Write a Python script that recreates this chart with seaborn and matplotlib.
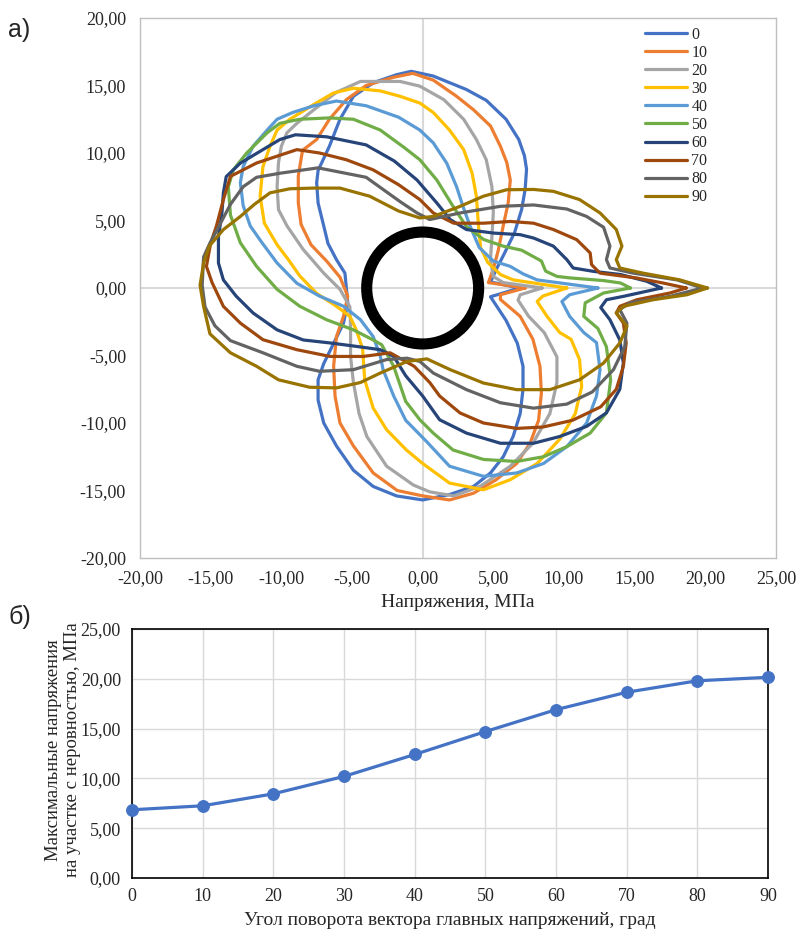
import matplotlib
matplotlib.use("Agg")
import pandas as pd
import seaborn as sns
from matplotlib import pyplot as plt
from matplotlib.ticker import FuncFormatter, MultipleLocator

# --- contour of stresses around the hole for each rotation angle (MPa) ---
x_0 = [6.85, 4.8, 5.2, 5.8, 6.5, 7.0, 7.25, 7.35, 7.2, 6.8, 5.9, 4.5, 3.1, 0.75, -0.8, -1.85, -3.5, -4.9, -5.85, -6.6,
       -7.0, -7.4, -7.5, -7.4, -7.0, -6.7, -6.1, -5.5, -5.4, -5.3, -5.6, -6.3, -7.0, -7.4, -7.4, -7.0, -6.1, -4.9, -3.5,
       -1.85, 0.0, 1.9, 3.6, 4.8, 5.7, 6.4, 6.9, 7.1, 7.1, 6.7, 5.9, 4.8, 6.85]
y_0 = [0.0, 0.45, 1.35, 2.6, 4.1, 5.8, 7.3, 8.8, 9.8, 11.0, 12.5, 13.9, 14.7, 15.7, 16.05, 15.8, 15.2, 14.2, 12.5, 10.5,
       9.6, 8.7, 7.8, 6.3, 4.6, 3.3, 2.1, 1.1, 0.0, -1.1, -2.6, -4.1, -5.6, -6.8, -8.3, -10.0, -11.7, -13.5, -14.7,
       -15.4, -15.7, -15.3, -14.7, -13.7, -12.5, -11.0, -9.3, -7.5, -5.8, -4.1, -2.4, -0.65, 0.0]

x_10 = [7.25, 4.65, 5.0, 5.35, 5.7, 6.05, 6.2, 5.95, 5.5, 4.8, 3.6, 2.4, 0.75, -0.7, -2.1, -4.0, -5.4, -6.6, -7.5, -8.5,
        -8.8, -8.8, -8.6, -7.9, -6.8, -5.85, -5.3, -5.6, -6.1, -6.3, -6.2, -5.85, -4.9, -3.5, -1.8, 0.0, 1.9, 3.6, 5.2,
        6.65, 7.6, 8.2, 8.4, 8.3, 7.8, 6.9, 5.5, 5.5, 7.25]
y_10 = [0.0, 0.4, 1.4, 2.8, 4.6, 6.3, 8.0, 9.3, 10.5, 12.0, 13.2, 14.2, 15.4, 15.9, 15.6, 15.0, 13.95, 12.5, 11.0, 10.2,
        8.3, 6.3, 4.7, 3.2, 2.0, 0.8, -0.6, -2.1, -3.6, -5.8, -8.0, -10.0, -11.7, -13.7, -15.0, -15.4, -15.7, -15.2,
        -14.2, -13.0, -11.5, -9.8, -7.8, -5.8, -3.8, -2.1, -0.85, -0.5, 0.0]

x_20 = [8.45, 5.7, 5.0, 4.8, 4.9, 5.0, 4.9, 4.5, 3.8, 2.9, 1.5, -0.2, -1.6, -4.4, -6.1, -7.7, -8.9, -9.6, -10.0, -10.2,
        -10.3, -10.2, -9.6, -8.45, -7.0, -5.85, -5.15, -5.1, -5.1, -4.9, -4.5, -3.95, -2.55, -0.65, 0.5, 2.2, 4.05, 6.2,
        7.8, 9.0, 9.5, 9.5, 8.6, 7.5, 6.75, 6.9, 8.45]
y_20 = [0.0, 0.4, 0.85, 2.1, 3.8, 5.6, 7.5, 9.5, 11.0, 12.5, 13.95, 14.95, 15.3, 15.3, 14.5, 13.2, 12.2, 11.5, 10.5, 9.3,
        7.5, 5.8, 4.6, 2.85, 1.1, -0.1, -1.4, -3.1, -5.1, -7.0, -9.3, -11.0, -13.2, -14.6, -15.1, -15.4, -14.7, -13.2,
        -11.5, -9.3, -7.0, -5.1, -3.3, -2.1, -0.9, -0.5, 0.0]

x_30 = [10.2, 6.4, 5.5, 4.6, 4.1, 3.95, 3.8, 3.5, 2.9, 1.9, 0.75, -0.2, -1.6, -3.0, -4.9, -6.3, -7.7, -9.4, -10.3, -10.8,
        -11.3, -11.5, -11.2, -10.3, -9.5, -8.7, -7.5, -6.1, -5.15, -4.7, -4.25, -4.1, -3.5, -2.55, -1.15, 0.0, 1.9, 4.3,
        6.2, 8.1, 9.7, 10.8, 11.25, 11.1, 10.5, 9.7, 8.8, 8.1, 8.5, 10.2]
y_30 = [0.0, 0.6, 1.0, 1.9, 3.0, 4.6, 6.8, 8.5, 10.25, 11.7, 13.0, 13.7, 14.2, 14.6, 14.8, 14.45, 13.6, 12.5, 11.7, 10.5,
        9.0, 6.8, 4.8, 3.2, 2.1, 0.9, -0.4, -1.35, -2.1, -3.1, -4.5, -6.8, -8.9, -10.5, -12.0, -13.0, -14.45, -14.95,
        -14.2, -13.0, -11.2, -9.3, -7.3, -5.3, -3.8, -3.3, -2.1, -1.0, -0.6, 0.0]

x_40 = [12.4, 8.1, 7.1, 6.2, 5.0, 4.0, 3.35, 2.85, 2.4, 1.7, 0.75, -0.2, -1.7, -4.0, -6.1, -7.7, -9.2, -10.3, -11.0,
        -12.0, -12.7, -12.9, -12.7, -12.2, -11.4, -10.3, -8.9, -7.3, -5.6, -4.4, -3.5, -3.0, -2.8, -2.05, -1.2, 0.3, 1.9,
        4.3, 6.65, 8.55, 10.2, 11.6, 12.3, 12.55, 12.3, 11.4, 10.4, 9.85, 10.4, 12.4]
y_40 = [0.0, 0.6, 1.05, 1.6, 2.0, 3.0, 4.6, 6.05, 7.5, 9.25, 10.75, 11.7, 12.65, 13.5, 13.85, 13.5, 13.0, 12.5, 11.7,
        10.5, 9.0, 7.8, 6.1, 4.6, 3.4, 1.85, 0.35, -0.6, -1.35, -2.35, -3.6, -5.05, -6.05, -8.0, -9.8, -11.4, -13.2,
        -13.95, -13.7, -13.0, -11.75, -10.0, -8.0, -6.05, -4.05, -3.3, -2.1, -1.0, -0.5, 0.0]

x_50 = [14.7, 14.0, 12.8, 10.4, 9.5, 8.7, 8.4, 7.0, 5.7, 4.3, 3.1, 2.15, 1.0, -0.2, -1.3, -3.0, -4.9, -6.6, -8.7, -10.1,
        -11.0, -12.45, -13.4, -13.75, -13.6, -12.9, -11.75, -10.3, -8.7, -6.8, -4.9, -3.5, -2.9, -2.05, -1.2, -0.2, 0.75,
        2.15, 4.3, 6.65, 8.55, 10.2, 11.85, 13.0, 13.3, 13.0, 12.4, 11.4, 11.5, 12.8, 14.7]
y_50 = [0.0, 0.37, 0.55, 0.75, 0.86, 1.25, 2.0, 2.8, 3.1, 3.6, 4.55, 6.05, 8.0, 9.5, 10.4, 11.7, 12.5, 12.6, 12.5, 12.2,
        11.5, 10.0, 8.75, 7.5, 5.4, 3.35, 1.6, -0.1, -1.35, -2.35, -3.1, -3.85, -4.2, -5.8, -8.4, -9.76, -10.75, -12.0,
        -12.7, -12.85, -12.5, -11.75, -10.75, -9.25, -6.8, -4.35, -3.0, -2.1, -1.1, -0.37, 0.0]

x_60 = [16.9, 15.85, 14.0, 12.1, 10.65, 10.2, 9.25, 7.85, 6.9, 5.0, 3.1, 1.95, 1.0, -0.4, -2.0, -4.0, -6.8, -9.0, -10.1,
        -11.3, -12.9, -13.9, -14.1, -14.2, -14.45, -14.45, -14.1, -13.2, -12.0, -10.3, -8.45, -6.55, -4.65, -3.0, -2.05,
        -1.2, 0.0, 1.2, 3.1, 5.5, 7.85, 9.7, 11.6, 13.0, 13.95, 14.2, 13.95, 13.25, 12.6, 13.0, 14.2, 16.9]
y_60 = [0.0, 0.5, 1.0, 1.23, 1.48, 2.1, 3.1, 3.7, 3.95, 4.07, 4.33, 5.07, 6.3, 8.0, 9.4, 10.6, 11.2, 11.35, 11.0, 10.25,
        9.25, 8.25, 7.05, 5.6, 3.8, 1.85, 0.6, -0.6, -1.85, -3.1, -3.85, -4.07, -4.33, -4.57, -5.07, -6.5, -8.0, -9.76,
        -10.75, -11.5, -11.5, -11.0, -10.25, -9.25, -7.5, -5.55, -3.85, -2.35, -1.45, -0.87, -0.62, 0.0]

x_70 = [18.65, 17.0, 15.15, 12.55, 11.95, 11.85, 10.9, 9.25, 7.85, 6.2, 4.3, 2.2, 0.75, -0.2, -1.7, -3.5, -5.4, -7.3,
        -8.9, -11.75, -13.6, -14.1, -14.6, -15.0, -15.3, -14.9, -14.1, -12.9, -11.3, -8.9, -6.55, -4.2, -2.3, -0.6, 0.5,
        1.2, 2.65, 4.3, 6.65, 8.5, 10.6, 12.6, 13.7, 14.2, 14.4, 14.2, 13.7, 13.95, 15.15, 17.5, 18.65]
y_70 = [0.0, 0.37, 0.74, 1.1, 1.73, 2.6, 3.58, 4.33, 4.8, 4.93, 4.8, 4.8, 5.56, 6.55, 7.65, 8.75, 9.5, 10.0, 10.25, 9.26,
        8.27, 6.55, 4.56, 3.33, 1.6, 0.4, -1.36, -2.6, -3.83, -4.57, -5.07, -5.07, -4.8, -5.8, -7.0, -8.0, -9.26, -10.0,
        -10.4, -10.3, -9.8, -8.8, -7.5, -5.8, -4.07, -2.6, -1.85, -1.36, -0.87, -0.37, 0.0]

x_80 = [19.8, 18.0, 14.9, 13.25, 13.0, 13.25, 12.8, 11.6, 10.2, 7.85, 5.5, 2.65, 0.5, -0.4, -1.6, -4.0, -7.4, -10.1,
        -11.75, -12.7, -13.6, -14.5, -15.05, -15.5, -15.6, -15.4, -14.7, -13.6, -11.3, -8.9, -7.3, -4.9, -2.55, -1.1,
        -0.2, 0.75, 3.1, 5.5, 7.85, 10.2, 12.0, 13.5, 14.3, 14.45, 13.95, 14.65, 17.5, 19.8]
y_80 = [0.0, 0.6, 1.1, 1.48, 2.1, 3.1, 4.5, 5.3, 5.85, 6.15, 6.05, 5.56, 5.07, 5.56, 6.4, 8.2, 8.9, 8.5, 8.2, 7.5, 6.2,
        4.4, 3.33, 2.3, 0.2, -1.4, -2.8, -3.9, -4.8, -5.8, -6.17, -6.05, -5.3, -5.2, -5.44, -6.3, -7.53, -8.5, -8.9, -8.6,
        -7.7, -6.05, -4.33, -2.6, -1.6, -1.1, -0.62, 0.0]

x_90 = [20.15, 18.2, 15.6, 13.95, 13.7, 14.1, 13.7, 12.55, 11.1, 9.25, 7.85, 5.95, 4.3, 2.65, 0.75, -0.2, -1.7, -3.75,
        -5.85, -7.75, -9.4, -10.8, -11.9, -12.9, -14.1, -15.1, -15.5, -15.75, -15.5, -15.05, -13.6, -11.75, -10.2, -8.0,
        -6.1, -4.4, -3.0, -1.1, 0.3, 1.95, 4.3, 6.65, 9.0, 11.1, 12.8, 13.95, 14.45, 13.7, 14.2, 16.3, 18.7, 20.15]
y_90 = [0.0, 0.6, 1.1, 1.48, 2.1, 3.1, 4.33, 5.56, 6.55, 7.16, 7.3, 7.28, 6.8, 6.05, 5.3, 5.19, 5.7, 6.8, 7.4, 7.4, 7.35,
        7.05, 6.2, 5.3, 4.33, 3.1, 1.85, 0.2, -1.36, -3.4, -4.8, -5.8, -6.8, -7.35, -7.4, -7.0, -6.3, -5.44, -5.25, -6.05,
        -7.04, -7.53, -7.53, -6.8, -5.56, -4.07, -2.84, -1.85, -1.36, -0.87, -0.5, 0.0]

angle_labels = ["0", "10", "20", "30", "40", "50", "60", "70", "80", "90"]
contour_x = [x_0, x_10, x_20, x_30, x_40, x_50, x_60, x_70, x_80, x_90]
contour_y = [y_0, y_10, y_20, y_30, y_40, y_50, y_60, y_70, y_80, y_90]

# hole in the middle
hole_x = [0.0]
hole_y = [0.0]

# --- max stress at the irregularity vs rotation angle ---
rotation_angle = [0, 10, 20, 30, 40, 50, 60, 70, 80, 90]
max_stress = [6.85, 7.25, 8.45, 10.2, 12.4, 14.7, 16.9, 18.65, 19.8, 20.15]

colors = ["#4472C4", "#ED7D31", "#A5A5A5", "#FFC000", "#5B9BD5",
          "#70AD47", "#264478", "#9E480E", "#636363", "#997300"]
palette = dict(zip(angle_labels, colors))

records = []
for lab, xs, ys in zip(angle_labels, contour_x, contour_y):
    for i, (xv, yv) in enumerate(zip(xs, ys)):
        records.append({"angle": lab, "idx": i, "x": xv, "y": yv})
df = pd.DataFrame(records)
df_max = pd.DataFrame({"angle": rotation_angle, "stress": max_stress})

sns.set_style("white")
plt.rcParams["font.family"] = ["Liberation Serif", "DejaVu Serif"]

comma = FuncFormatter(lambda v, p: f"{v:.2f}".replace(".", ","))

W, H = 798, 930
fig = plt.figure(figsize=(W / 100, H / 100), dpi=100)

# top chart
ax1 = fig.add_axes([140 / W, 1 - 558 / H, 636 / W, 540 / H])
ax1.axhline(0, color="#D9D9D9", lw=1.5, zorder=0)
ax1.axvline(0, color="#D9D9D9", lw=1.5, zorder=0)
sns.lineplot(data=df, x="x", y="y", hue="angle", palette=palette, sort=False,
             estimator=None, linewidth=2.3, ax=ax1)
for ln in ax1.lines:
    ln.set_solid_joinstyle("round")
ax1.scatter(hole_x, hole_y, s=80.6 ** 2, facecolors="none", edgecolors="black",
            linewidths=8, zorder=5)
ax1.set_xlim(-20, 25)
ax1.set_ylim(-20, 20)
ax1.xaxis.set_major_locator(MultipleLocator(5))
ax1.yaxis.set_major_locator(MultipleLocator(5))
ax1.xaxis.set_major_formatter(comma)
ax1.yaxis.set_major_formatter(comma)
ax1.tick_params(length=0, labelsize=13)
ax1.tick_params(axis="x", pad=9)
ax1.tick_params(axis="y", pad=10)
for s in ax1.spines.values():
    s.set_color("#BFBFBF")
    s.set_linewidth(1)
ax1.set_xlabel("Напряжения, МПа", fontsize=14, labelpad=5)
ax1.set_ylabel("")
ax1.legend(loc="upper left", bbox_to_anchor=((645 - 140) / 636, 0.984), frameon=False,
           fontsize=11.5, handlelength=2.6, handletextpad=0.3, labelspacing=0.13,
           borderpad=0, borderaxespad=0)

# bottom chart
ax2 = fig.add_axes([132 / W, 1 - 878 / H, 636 / W, 249 / H])
sns.lineplot(data=df_max, x="angle", y="stress", color="#4472C4", linewidth=2.3,
             marker="o", markersize=8.5, markeredgecolor="#4472C4", ax=ax2, clip_on=False, zorder=4)
ax2.set_xlim(0, 90)
ax2.set_ylim(0, 25)
ax2.xaxis.set_major_locator(MultipleLocator(10))
ax2.yaxis.set_major_locator(MultipleLocator(5))
ax2.yaxis.set_major_formatter(comma)
ax2.grid(True, color="#D9D9D9", lw=1)
ax2.tick_params(length=0, labelsize=13)
ax2.tick_params(axis="x", pad=7)
ax2.tick_params(axis="y", pad=8)
for s in ax2.spines.values():
    s.set_color("black")
    s.set_linewidth(1.2)
ax2.set_xlabel("Угол поворота вектора главных напряжений, град", fontsize=14, labelpad=5)
ax2.set_ylabel("")
fig.text(63 / W, 1 - 750 / H, "Максимальные напряжения\nна участке с неровностью, МПа",
         rotation=90, ha="center", va="center", fontsize=13.5, multialignment="center",
         linespacing=1.15)

sans = ["Liberation Sans", "DejaVu Sans"]
fig.text(8 / W, 1 - 30 / H, "а)", fontsize=18, family=sans, va="center")
fig.text(8 / W, 1 - 617 / H, "б)", fontsize=18, family=sans, va="center")

fig.savefig("out.png", dpi=100)
